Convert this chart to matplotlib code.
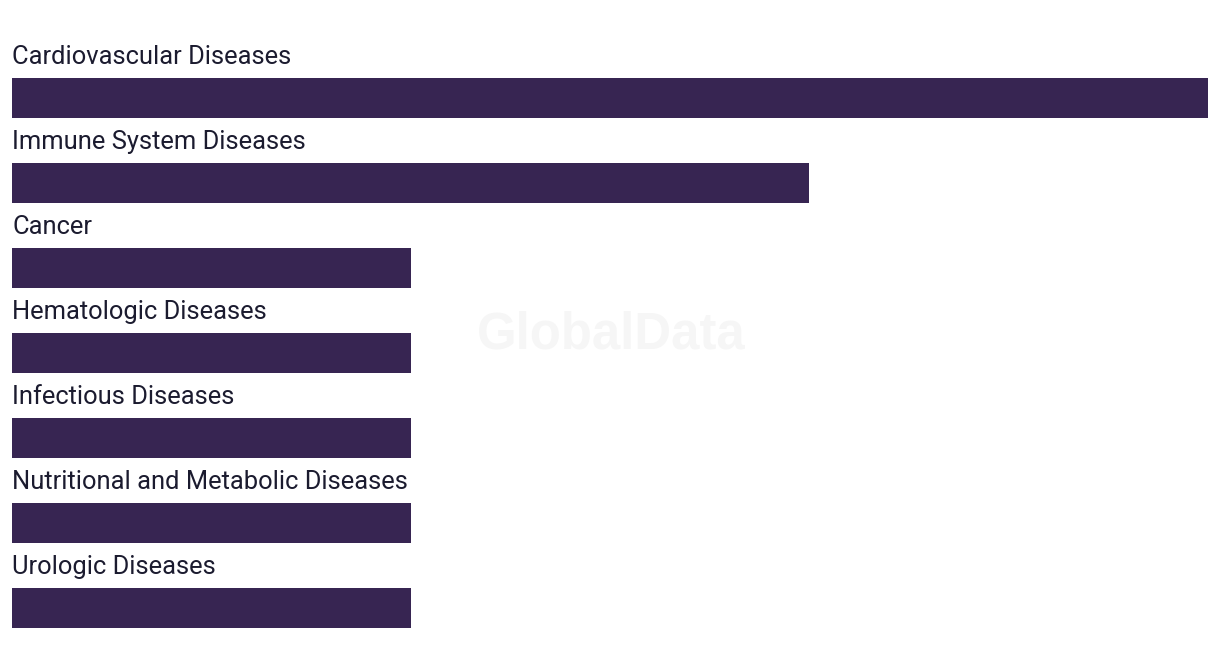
import matplotlib
matplotlib.use("Agg")
import matplotlib.pyplot as plt

categories = [
    "Cardiovascular Diseases",
    "Immune System Diseases",
    "Cancer",
    "Hematologic Diseases",
    "Infectious Diseases",
    "Nutritional and Metabolic Diseases",
    "Urologic Diseases",
]
values = [3, 2, 1, 1, 1, 1, 1]

bar_color = "#372552"
text_color = "#1b1b2f"

W, H = 1220, 670
fig = plt.figure(figsize=(W / 100, H / 100), dpi=100)
fig.patch.set_facecolor("white")

left = 12 / W
right = 1208 / W
top_px = 55.5
bot_px = 650.5
ax = fig.add_axes([left, (H - bot_px) / H, right - left, (bot_px - top_px) / H])

fig.text(611 / W, 1 - 335 / H, "GlobalData", ha="center", va="center",
         fontsize=36.6, fontweight="bold", color="#f6f6f6",
         family=["Liberation Sans", "DejaVu Sans"], zorder=0)

ypos = list(range(len(categories)))
ax.barh(ypos, values, height=40 / 85, color=bar_color, align="center")
ax.set_xlim(0, max(values))
ax.set_ylim(len(categories) - 0.5, -0.5)
ax.axis("off")
ax.patch.set_alpha(0)

for y, lab in zip(ypos, categories):
    ax.text(0, y - 0.235 - 14.5 / 85, lab, ha="left", va="baseline",
            fontsize=18.4, color=text_color, family=["Roboto", "DejaVu Sans"])

fig.savefig("out.png", dpi=100)
